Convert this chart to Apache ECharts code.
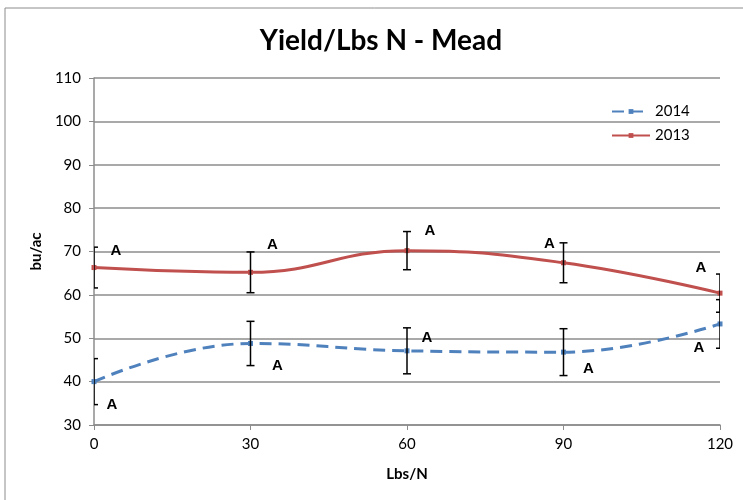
<!DOCTYPE html>
<html>
<head>
<meta charset="utf-8">
<script src="https://cdn.jsdelivr.net/npm/echarts@6/dist/echarts.min.js"></script>
<style>html,body{margin:0;padding:0;background:#fff;}#c{width:743px;height:500px;}</style>
</head>
<body>
<div id="c"></div>
<script>
var xValues = [0, 30, 60, 90, 120];
var yTicks = [30, 40, 50, 60, 70, 80, 90, 100, 110];
var seriesNames = ['2014', '2013'];
var yield2014 = [40.0, 48.8, 47.1, 46.8, 53.3];
var err2014 = [5.3, 5.1, 5.3, 5.4, 5.6];
var yield2013 = [66.3, 65.2, 70.2, 67.4, 60.4];
var err2013 = [4.7, 4.7, 4.4, 4.6, 4.4];
var letters2014 = ['A', 'A', 'A', 'A', 'A'];
var letters2013 = ['A', 'A', 'A', 'A', 'A'];

// label placement (layout only): which end of the bar, pixel offsets
var lab2014 = [['lo', 18, 0], ['lo', 27, 0], ['mid', 20, -13], ['lo', 25, -7], ['lo', -21, 0]];
var lab2013 = [['hi', 22, 4], ['hi', 22, -7], ['hi', 23, -1], ['hi', -14, 1], ['hi', -19, -6]];

var FONT = 'Lato, "Open Sans", sans-serif';
var chart = echarts.init(document.getElementById('c'));

function pairs(vals) { return xValues.map(function (x, i) { return [x, vals[i]]; }); }
function errData(vals, errs, letters) {
  return xValues.map(function (x, i) { return [x, vals[i] - errs[i], vals[i] + errs[i], vals[i], letters[i], i]; });
}
function makeRender(layout) {
  return function (params, api) {
    var x = api.value(0), lo = api.value(1), hi = api.value(2), mid = api.value(3);
    var idx = api.value(5);
    var pLo = api.coord([x, lo]), pHi = api.coord([x, hi]), pMid = api.coord([x, mid]);
    var st = { stroke: '#000', lineWidth: 1.5 };
    var L = layout[idx];
    var anchor = L[0] === 'lo' ? pLo : (L[0] === 'hi' ? pHi : pMid);
    return {
      type: 'group',
      children: [
        { type: 'line', shape: { x1: pLo[0], y1: pLo[1], x2: pHi[0], y2: pHi[1] }, style: st },
        { type: 'line', shape: { x1: pLo[0] - 4, y1: pLo[1], x2: pLo[0] + 4, y2: pLo[1] }, style: st },
        { type: 'line', shape: { x1: pHi[0] - 4, y1: pHi[1], x2: pHi[0] + 4, y2: pHi[1] }, style: st },
        { type: 'text', x: anchor[0] + L[1], y: anchor[1] + L[2],
          style: { text: api.value(4), fill: '#000', font: 'bold 15px "Liberation Sans", Arial, sans-serif', align: 'center', verticalAlign: 'middle' } }
      ]
    };
  };
}

var option = {
  animation: false,
  title: {
    text: 'Yield/Lbs N - Mead', left: 376, top: 22, textAlign: 'center',
    textStyle: { fontFamily: FONT, fontSize: 28, fontWeight: 'bold', color: '#000' }
  },
  graphic: [{ type: 'rect', shape: { x: 5, y: 8, width: 760, height: 520 }, style: { fill: 'none', stroke: '#8c8c8c', lineWidth: 1 }, z: -1 }],
  legend: {
    orient: 'vertical', left: 606, top: 99, itemWidth: 38, itemHeight: 6, itemGap: 9,
    data: seriesNames,
    textStyle: { fontFamily: FONT, fontSize: 15, color: '#000' }
  },
  grid: { left: 94, right: 23, top: 78, bottom: 75 },
  xAxis: {
    type: 'value', min: 0, max: 120, interval: 30,
    name: 'Lbs/N', nameLocation: 'middle', nameGap: 42,
    nameTextStyle: { fontFamily: FONT, fontSize: 15, fontWeight: 'bold', color: '#000' },
    axisLine: { lineStyle: { color: '#8c8c8c', width: 1.5 } },
    axisTick: { show: true, length: 5, lineStyle: { color: '#8c8c8c' } },
    axisLabel: { fontFamily: FONT, fontSize: 15, color: '#000', margin: 12 },
    splitLine: { show: false }
  },
  yAxis: {
    type: 'value', min: yTicks[0], max: yTicks[yTicks.length - 1], interval: 10,
    name: 'bu/ac', nameLocation: 'middle', nameGap: 48, nameRotate: 90,
    nameTextStyle: { fontFamily: FONT, fontSize: 15, fontWeight: 'bold', color: '#000' },
    axisLine: { show: true, lineStyle: { color: '#8c8c8c', width: 1.5 } },
    axisTick: { show: true, length: 5, lineStyle: { color: '#8c8c8c' } },
    axisLabel: { fontFamily: FONT, fontSize: 15, color: '#000', margin: 13 },
    splitLine: { lineStyle: { color: '#8c8c8c', width: 1.5 } }
  },
  series: [
    {
      name: seriesNames[0], type: 'line', data: pairs(yield2014), smooth: 0.45,
      symbol: 'rect', symbolSize: 5, showSymbol: true,
      itemStyle: { color: '#4F81BD' },
      lineStyle: { color: '#4F81BD', width: 3, type: [12, 7] }, z: 3
    },
    {
      name: seriesNames[1], type: 'line', data: pairs(yield2013), smooth: 0.45,
      symbol: 'rect', symbolSize: 5, showSymbol: true,
      itemStyle: { color: '#C0504D' },
      lineStyle: { color: '#C0504D', width: 3 }, z: 3
    },
    {
      type: 'custom', data: errData(yield2014, err2014, letters2014),
      renderItem: makeRender(lab2014), clip: true, z: 4, silent: true,
      encode: { x: 0, y: [1, 2] }
    },
    {
      type: 'custom', data: errData(yield2013, err2013, letters2013),
      renderItem: makeRender(lab2013), clip: true, z: 4, silent: true,
      encode: { x: 0, y: [1, 2] }
    }
  ]
};
chart.setOption(option);
</script>
</body>
</html>
